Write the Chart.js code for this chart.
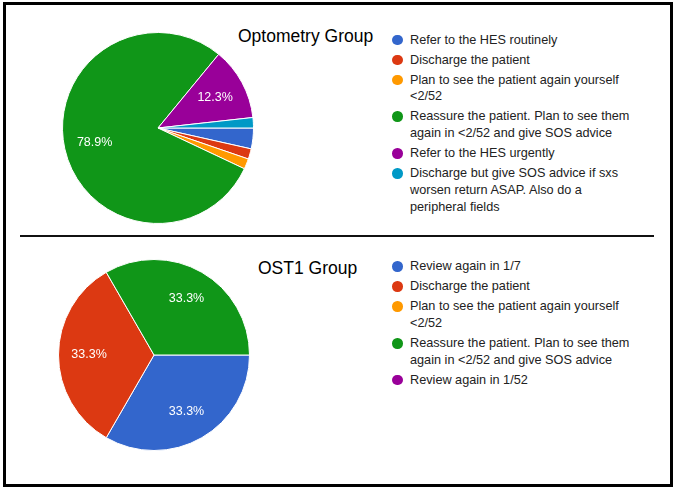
<!DOCTYPE html>
<html>
<head>
<meta charset="utf-8">
<script src="https://cdn.jsdelivr.net/npm/chart.js@4/dist/chart.umd.min.js"></script>
<style>
  body { margin: 0; background: #fff; font-family: "Liberation Sans", Arial, sans-serif; }
  #frame { position: absolute; left: 3px; top: 2px; width: 664px; height: 479px; border: 3px solid #000; }
  #divider { position: absolute; left: 20px; top: 234.5px; width: 634px; height: 2px; background: #111; }
  .title { position: absolute; font-size: 17.5px; color: #000; white-space: nowrap; }
  .legend { position: absolute; left: 391px; width: 250px; list-style: none; margin: 0; padding: 0; font-size: 12.7px; color: #222; }
  .legend li { position: relative; padding-left: 19px; line-height: 16.7px; margin-bottom: 3.3px; width: 230px; }
  .legend span.dot { position: absolute; left: 1px; top: 3px; width: 10.5px; height: 10.5px; border-radius: 50%; }
  canvas { position: absolute; }
</style>
</head>
<body>
<div id="frame"></div>
<div id="divider"></div>
<div class="title" style="left:238px; top:26px;">Optometry Group</div>
<div class="title" style="left:258px; top:258px;">OST1 Group</div>
<ul class="legend" id="optLegend" style="top:31.7px;"></ul>
<ul class="legend" id="ostLegend" style="top:258.4px;"></ul>
<canvas id="optPie" width="192" height="192" style="left:62px; top:32px;"></canvas>
<canvas id="ostPie" width="192" height="192" style="left:58px; top:259px;"></canvas>
<script>
// Optometry group answers
var optLabels = [
    "Refer to the HES routinely",
    "Discharge the patient",
    "Plan to see the patient again yourself <2/52",
    "Reassure the patient. Plan to see them again in <2/52 and give SOS advice",
    "Refer to the HES urgently",
    "Discharge but give SOS advice if sxs worsen return ASAP. Also do a peripheral fields"
];
var optCounts = [2, 1, 1, 45, 7, 1];
var optColors = ["#3366cc", "#dc3912", "#ff9900", "#109618", "#990099", "#0099c6"];

// OST1 group answers
var ostLabels = [
    "Review again in 1/7",
    "Discharge the patient",
    "Plan to see the patient again yourself <2/52",
    "Reassure the patient. Plan to see them again in <2/52 and give SOS advice",
    "Review again in 1/52"
];
var ostCounts = [1, 1, 0, 1, 0];
var ostColors = ["#3366cc", "#dc3912", "#ff9900", "#109618", "#990099"];

// percentages inside the bigger slices, like google forms does
var pctLabels = {
    id: 'pctLabels',
    afterDatasetsDraw: function (chart) {
        var ctx = chart.ctx;
        var data = chart.data.datasets[0].data;
        var total = data.reduce(function (a, b) { return a + b; }, 0);
        chart.getDatasetMeta(0).data.forEach(function (arc, i) {
            var share = data[i] / total;
            if (share < 0.05) return;
            var p = arc.getProps(['x', 'y', 'startAngle', 'endAngle', 'outerRadius'], true);
            var mid = (p.startAngle + p.endAngle) / 2;
            var r = p.outerRadius * 0.68;
            ctx.save();
            ctx.fillStyle = '#ffffff';
            ctx.font = '12.5px "Liberation Sans", Arial, sans-serif';
            ctx.textAlign = 'center';
            ctx.textBaseline = 'middle';
            ctx.fillText((share * 100).toFixed(1) + '%', p.x + Math.cos(mid) * r, p.y + Math.sin(mid) * r);
            ctx.restore();
        });
    }
};

function makePie(id, labels, counts, colors) {
    var chrt = document.getElementById(id).getContext("2d");
    return new Chart(chrt, {
        type: 'pie',
        data: {
            labels: labels,
            datasets: [{
                data: counts,
                backgroundColor: colors,
                borderColor: '#ffffff',
                borderWidth: 1
            }]
        },
        options: {
            responsive: false,
            animation: false,
            rotation: 90,
            plugins: {
                legend: { display: false },
                tooltip: { enabled: false }
            }
        },
        plugins: [pctLabels]
    });
}

function makeLegend(id, labels, colors) {
    var ul = document.getElementById(id);
    labels.forEach(function (txt, i) {
        var li = document.createElement('li');
        var dot = document.createElement('span');
        dot.className = 'dot';
        dot.style.background = colors[i];
        li.appendChild(dot);
        li.appendChild(document.createTextNode(txt));
        ul.appendChild(li);
    });
}

makePie("optPie", optLabels, optCounts, optColors);
makePie("ostPie", ostLabels, ostCounts, ostColors);
makeLegend("optLegend", optLabels, optColors);
makeLegend("ostLegend", ostLabels, ostColors);
</script>
</body>
</html>
